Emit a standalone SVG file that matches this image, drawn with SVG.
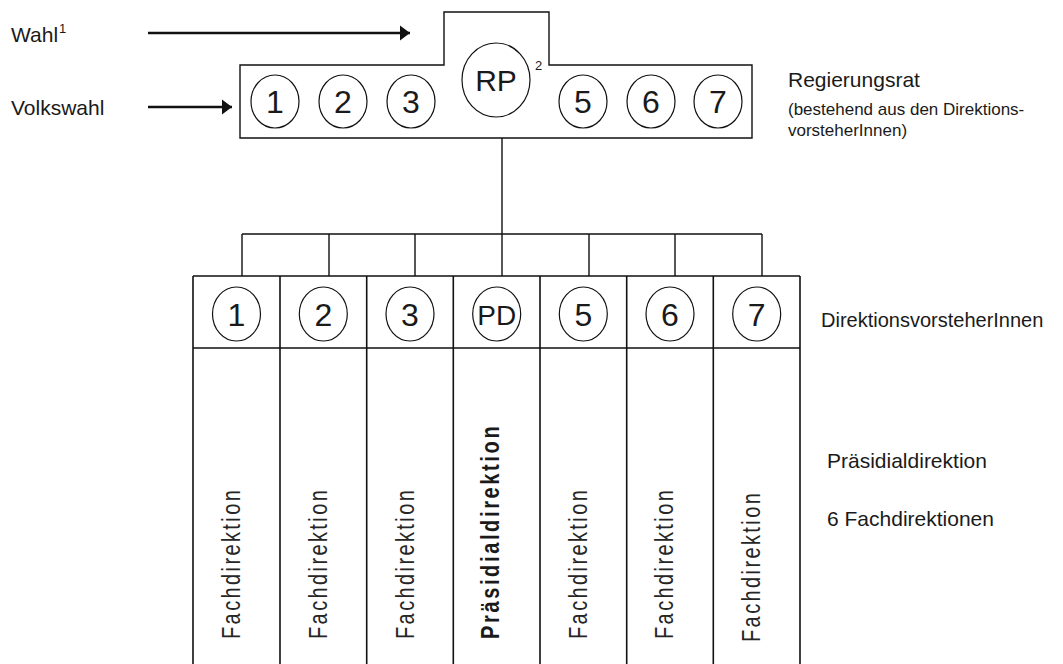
<svg xmlns="http://www.w3.org/2000/svg" width="1063" height="664" viewBox="0 0 1063 664">
<defs>
<style>
text{font-family:"Liberation Sans",Arial,sans-serif;fill:#1a1a1a}
.ln{fill:none;stroke:#111;stroke-width:1.4}
.col{fill:none;stroke:#111;stroke-width:1.6}
.arr{fill:none;stroke:#111;stroke-width:2.7}
.c{fill:none;stroke:#111;stroke-width:1.2}
.lbl{font-size:21px}
.small{font-size:17px}
.num{font-size:32px;text-anchor:middle}
.vt{font-size:25px;letter-spacing:3px;fill:#262626}
.vb{font-size:25px;letter-spacing:3.3px;font-weight:bold}
</style>
<marker id="ah" markerUnits="userSpaceOnUse" markerWidth="11" markerHeight="16" refX="10" refY="8" orient="auto">
<path d="M0,0.5 L10,8 L0,15.5 z" fill="#111"/>
</marker>
</defs>

<g id="labels-left">
<text class="lbl" x="11" y="42">Wahl</text>
<text x="59" y="33" font-size="13px">1</text>
<text class="lbl" x="11" y="115">Volkswahl</text>
</g>

<g id="regierungsrat">
<path class="ln" d="M240,65 H444 V12 H549 V65 H752 V138 H240 Z"/>
<ellipse class="c" cx="275" cy="101.5" rx="24" ry="26.5"/>
<text class="num" x="275" y="113">1</text>
<ellipse class="c" cx="343" cy="101.5" rx="24" ry="26.5"/>
<text class="num" x="343" y="113">2</text>
<ellipse class="c" cx="411" cy="101.5" rx="24" ry="26.5"/>
<text class="num" x="411" y="113">3</text>
<ellipse class="c" cx="496" cy="80" rx="34" ry="37"/>
<text class="num" x="496" y="91" style="font-size:30px">RP</text>
<text x="535" y="70" font-size="13px">2</text>
<ellipse class="c" cx="583" cy="101.5" rx="24" ry="26.5"/>
<text class="num" x="583" y="113">5</text>
<ellipse class="c" cx="651" cy="101.5" rx="24" ry="26.5"/>
<text class="num" x="651" y="113">6</text>
<ellipse class="c" cx="718" cy="101.5" rx="24" ry="26.5"/>
<text class="num" x="718" y="113">7</text>
</g>

<g id="labels-right">
<text class="lbl" x="788" y="87">Regierungsrat</text>
<text class="small" x="788" y="115">(bestehend aus den Direktions-</text>
<text class="small" x="788" y="136">vorsteherInnen)</text>
<text x="821" y="327" style="font-size:20px">DirektionsvorsteherInnen</text>
<text class="lbl" x="827" y="468">Präsidialdirektion</text>
<text class="lbl" x="827" y="526">6 Fachdirektionen</text>
</g>

<g id="connectors">
<line class="arr" x1="148" y1="33" x2="410" y2="33" marker-end="url(#ah)"/>
<line class="arr" x1="148" y1="107" x2="232" y2="107" marker-end="url(#ah)"/>
<path class="ln" d="M502,138 V234 M242,234 H762 M242,234 V276 M329,234 V276 M415,234 V276 M502,234 V276 M589,234 V276 M675,234 V276 M762,234 V276"/>
</g>

<g id="direktionen">
<path class="col" d="M193,276 H800 M193,348 H800 M193,276 V664 M280,276 V664 M366.7,276 V664 M453.3,276 V664 M540,276 V664 M626.7,276 V664 M713.3,276 V664 M800,276 V664"/>
</g>

<g id="dir1">
<ellipse class="c" cx="236.5" cy="314" rx="24" ry="27"/>
<text class="num" x="236.5" y="325.5">1</text>
<text class="vt" transform="translate(240,639) rotate(-90) scale(0.8,1)">Fachdirektion</text>
</g>
<g id="dir2">
<ellipse class="c" cx="323.3" cy="314" rx="24" ry="27"/>
<text class="num" x="323.3" y="325.5">2</text>
<text class="vt" transform="translate(327,639) rotate(-90) scale(0.8,1)">Fachdirektion</text>
</g>
<g id="dir3">
<ellipse class="c" cx="410" cy="314" rx="24" ry="27"/>
<text class="num" x="410" y="325.5">3</text>
<text class="vt" transform="translate(413.5,639) rotate(-90) scale(0.8,1)">Fachdirektion</text>
</g>
<g id="dir4">
<ellipse class="c" cx="496.7" cy="314" rx="24" ry="27"/>
<text class="num" x="496.7" y="324.5" style="font-size:28px">PD</text>
<text class="vb" transform="translate(499,639) rotate(-90) scale(0.8,1)">Präsidialdirektion</text>
</g>
<g id="dir5">
<ellipse class="c" cx="583.3" cy="314" rx="24" ry="27"/>
<text class="num" x="583.3" y="325.5">5</text>
<text class="vt" transform="translate(586.5,639) rotate(-90) scale(0.8,1)">Fachdirektion</text>
</g>
<g id="dir6">
<ellipse class="c" cx="670" cy="314" rx="24" ry="27"/>
<text class="num" x="670" y="325.5">6</text>
<text class="vt" transform="translate(673,639) rotate(-90) scale(0.8,1)">Fachdirektion</text>
</g>
<g id="dir7">
<ellipse class="c" cx="756.7" cy="314" rx="24" ry="27"/>
<text class="num" x="756.7" y="325.5">7</text>
<text class="vt" transform="translate(759.5,642) rotate(-90) scale(0.8,1)">Fachdirektion</text>
</g>
</svg>
